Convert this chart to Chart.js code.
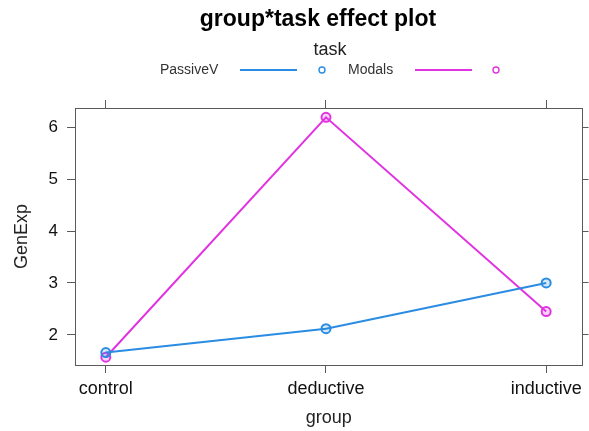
<!DOCTYPE html>
<html>
<head>
<meta charset="utf-8">
<script src="https://cdn.jsdelivr.net/npm/chart.js@4/dist/chart.umd.min.js"></script>
<style>
  html, body { margin: 0; padding: 0; background: #fff; }
  #wrap { width: 589px; height: 431px; position: relative; }
</style>
</head>
<body>
<div id="wrap"><canvas id="c" width="589" height="431"></canvas></div>
<script>
// Effect plot data: GenExp by group, one line per task
const groups = ["control", "deductive", "inductive"];
const passiveV = [1.66, 2.12, 3.00];
const modals = [1.57, 6.19, 2.45];
const yTicks = [2, 3, 4, 5, 6];
const seriesNames = ["PassiveV", "Modals"];

const BLUE = "#2a8ce2";
const MAGENTA = "#e233e2";
const FRAME = "#5a5a5a";
const FONT = "'Liberation Sans', Arial, Helvetica, sans-serif";

function pts(vals) { return vals.map((v, i) => ({ x: i, y: v })); }

const fixTicksX = s => { s.ticks = groups.map((_, i) => ({ value: i })); };
const fixTicksY = s => { s.ticks = yTicks.map(v => ({ value: v })); };

// Title and key drawn above the panel
const header = {
  id: "header",
  afterDraw(chart) {
    const ctx = chart.ctx;
    ctx.save();
    ctx.fillStyle = "#000";
    ctx.textAlign = "center";
    ctx.textBaseline = "middle";
    ctx.font = "bold 23px " + FONT;
    ctx.fillText("group*task effect plot", 318, 20);
    ctx.font = "18px " + FONT;
    ctx.fillStyle = "#222";
    ctx.fillText("task", 330, 50);

    const keys = [
      { name: seriesNames[0], color: BLUE, tx: 160, l0: 240, l1: 297, cx: 322 },
      { name: seriesNames[1], color: MAGENTA, tx: 348, l0: 415, l1: 472, cx: 496 }
    ];
    ctx.font = "14px " + FONT;
    ctx.textAlign = "left";
    keys.forEach(k => {
      ctx.fillStyle = "#333";
      ctx.fillText(k.name, k.tx, 70);
      ctx.strokeStyle = k.color;
      ctx.lineWidth = 2;
      ctx.beginPath();
      ctx.moveTo(k.l0, 70);
      ctx.lineTo(k.l1, 70);
      ctx.stroke();
      ctx.lineWidth = 1.4;
      ctx.beginPath();
      ctx.arc(k.cx, 70, 3, 0, Math.PI * 2);
      ctx.stroke();
    });
    ctx.restore();
  }
};

const axisBase = {
  type: "linear",
  border: { display: true, color: FRAME, width: 1 },
  grid: { display: true, drawOnChartArea: false, drawTicks: true, tickLength: 8, color: FRAME, lineWidth: 1 }
};

new Chart(document.getElementById("c"), {
  type: "line",
  data: {
    datasets: [
      {
        label: seriesNames[0], data: pts(passiveV),
        borderColor: BLUE, borderWidth: 2,
        pointRadius: 4.5, pointBorderWidth: 2,
        pointBorderColor: BLUE, pointBackgroundColor: "rgba(42,140,226,0.2)",
        tension: 0
      },
      {
        label: seriesNames[1], data: pts(modals),
        borderColor: MAGENTA, borderWidth: 2,
        pointRadius: 4.5, pointBorderWidth: 2,
        pointBorderColor: MAGENTA, pointBackgroundColor: "rgba(226,51,226,0.2)",
        tension: 0
      }
    ]
  },
  options: {
    responsive: false,
    animation: false,
    layout: { padding: 0 },
    plugins: { legend: { display: false }, title: { display: false }, tooltip: { enabled: false } },
    scales: {
      x: Object.assign({}, axisBase, {
        position: "bottom",
        min: -0.14, max: 2.165,
        afterBuildTicks: fixTicksX,
        afterFit: s => { s.height = 66; },
        ticks: {
          padding: 5, color: "#111", maxRotation: 0, autoSkip: false,
          font: { family: FONT, size: 18 },
          callback: v => groups[v]
        },
        title: { display: true, text: "group", color: "#222", font: { family: FONT, size: 18 }, padding: { top: 4, bottom: 2 } }
      }),
      xTop: Object.assign({}, axisBase, {
        position: "top",
        min: -0.14, max: 2.165,
        afterBuildTicks: fixTicksX,
        afterFit: s => { s.height = 108; },
        ticks: { display: false }
      }),
      y: Object.assign({}, axisBase, {
        position: "left",
        min: 1.42, max: 6.37,
        afterBuildTicks: fixTicksY,
        afterFit: s => { s.width = 75; },
        ticks: { padding: 9, color: "#111", font: { family: FONT, size: 17 } },
        title: { display: true, text: "GenExp", color: "#222", font: { family: FONT, size: 18 }, padding: { top: 11, bottom: 8 } }
      }),
      yRight: Object.assign({}, axisBase, {
        position: "right",
        min: 1.42, max: 6.37,
        afterBuildTicks: fixTicksY,
        afterFit: s => { s.width = 6; },
        ticks: { display: false },
        grid: { display: true, drawOnChartArea: false, drawTicks: true, tickLength: 6, color: FRAME, lineWidth: 1 }
      })
    }
  },
  plugins: [header]
});
</script>
</body>
</html>
